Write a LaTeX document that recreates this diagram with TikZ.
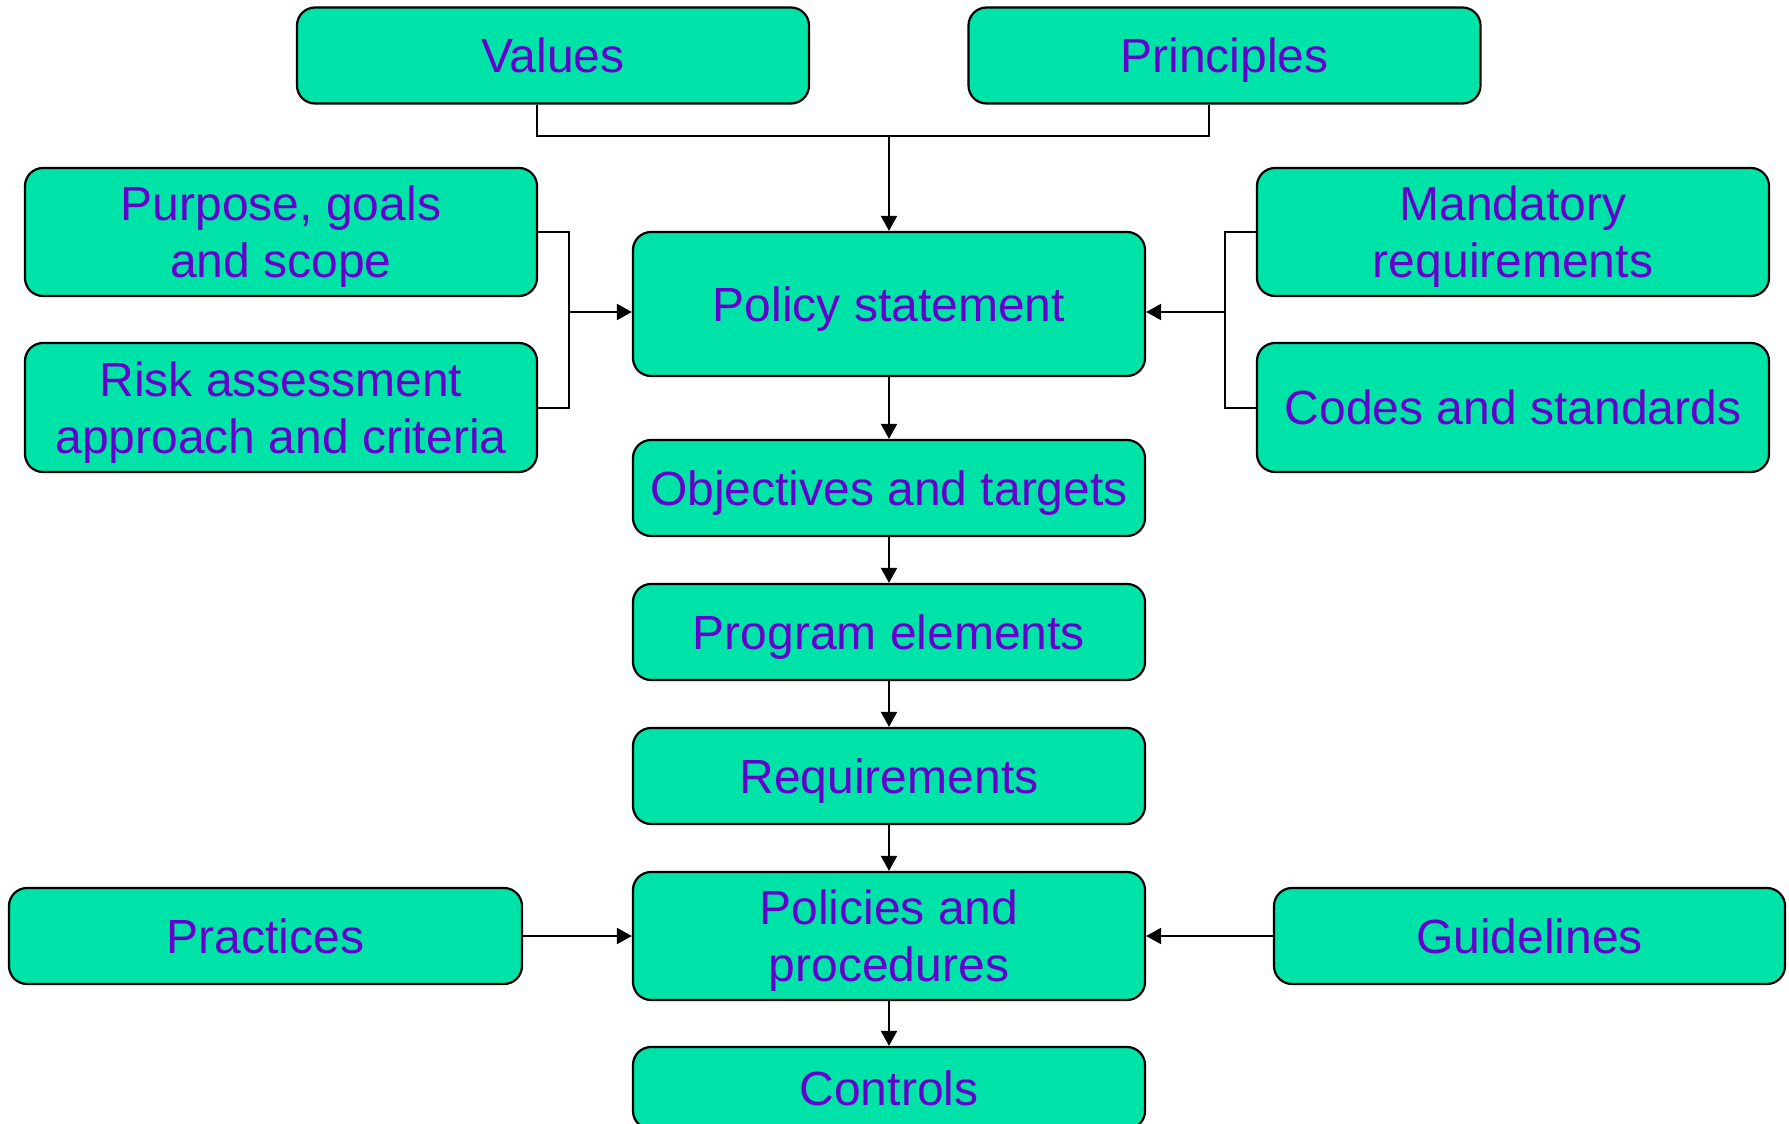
\documentclass[tikz,border=0pt]{standalone}
\usepackage{fontspec}
\setmainfont{Liberation Sans}
\usetikzlibrary{arrows.meta}
\definecolor{boxfill}{RGB}{0,227,168}
\definecolor{boxtext}{RGB}{102,0,204}
\tikzset{
  box/.style={draw=black, line width=1.1pt, fill=boxfill, rounded corners=9pt,
    inner sep=0pt, text=boxtext, align=center, text depth=-2pt,
    font=\fontsize{24pt}{28.5pt}\selectfont,
    minimum width=256pt, minimum height=48pt},
  conn/.style={draw=black, line width=1pt},
  arr/.style={conn, -{Triangle[length=7.5pt,width=8pt]}}
}
\begin{document}
\begin{tikzpicture}[x=0.5pt,y=-0.5pt]
\useasboundingbox (0,0) rectangle (1789,1124);
\clip (0,0) rectangle (1789,1124);
% top row
\node[box] (values) at (553,55.5) {Values};
\node[box] (principles) at (1224.5,55.5) {Principles};
% side boxes
\node[box, minimum height=64pt] (purpose) at (281,232) {Purpose, goals\\and scope};
\node[box, minimum height=64.5pt] (risk) at (281,407.5) {Risk assessment\\approach and criteria};
\node[box, minimum height=64pt] (mandatory) at (1513,232) {Mandatory\\requirements};
\node[box, minimum height=64.5pt] (codes) at (1513,407.5) {Codes and standards};
% central column
\node[box, minimum height=72pt] (policy) at (889,304) {Policy statement};
\node[box] (objectives) at (889,488) {Objectives and targets};
\node[box] (program) at (889,632) {Program elements};
\node[box] (requirements) at (889,776) {Requirements};
\node[box, minimum height=64pt] (policies) at (889,936) {Policies and\\procedures};
\node[box, minimum height=41pt] (controls) at (889,1088) {Controls};
% bottom side boxes
\node[box, minimum width=256.5pt] (practices) at (265.5,936) {Practices};
\node[box, minimum width=255.5pt] (guidelines) at (1529.5,936) {Guidelines};
% top connector
\coordinate (tj) at (889,136);
\draw[conn] ([xshift=-8pt]values.south) |- (tj) -| ([xshift=-8pt]principles.south);
\draw[arr] (tj) -- (policy.north);
% left bracket
\coordinate (lj) at (569,312);
\draw[conn] (purpose.east) -| (lj) |- (risk.east);
\draw[arr] (lj) -- (lj -| policy.west);
% right bracket
\coordinate (rj) at (1225,312);
\draw[conn] (mandatory.west) -| (rj) |- (codes.west);
\draw[arr] (rj) -- (rj -| policy.east);
% column arrows
\draw[arr] (policy) -- (objectives);
\draw[arr] (objectives) -- (program);
\draw[arr] (program) -- (requirements);
\draw[arr] (requirements) -- (policies);
\draw[arr] (policies) -- (controls);
\draw[arr] (practices) -- (policies);
\draw[arr] (guidelines) -- (policies);
\end{tikzpicture}
\end{document}
